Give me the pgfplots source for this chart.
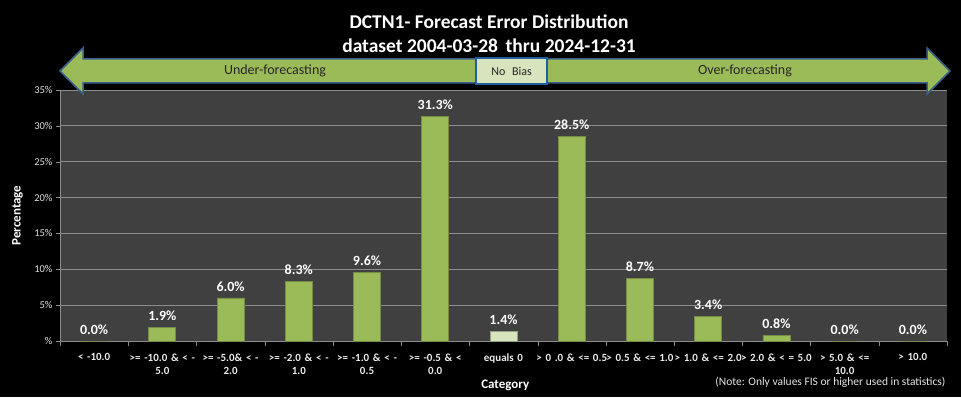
\documentclass[border=0pt]{standalone}
\usepackage{pgfplots}
\pgfplotsset{compat=1.18}
\usepackage{fontspec}
\setmainfont{Carlito}
\definecolor{bargreen}{HTML}{9BBB59}
\definecolor{barpale}{HTML}{D7E4BD}
\definecolor{plotbg}{HTML}{404040}
\definecolor{gridc}{HTML}{8C8C8C}
\definecolor{arrowedge}{HTML}{3A5F8A}
\begin{document}
\begin{tikzpicture}[x=1pt,y=1pt]
\fill[black] (0,0) rectangle (961,397);
\path[use as bounding box] (0,0) rectangle (961,397);
% titles
\node[white,font=\bfseries\fontsize{19.5}{22}\selectfont] at (489,375) {DCTN1- Forecast Error Distribution};
\node[white,font=\bfseries\fontsize{19.5}{22}\selectfont] at (489,351) {dataset 2004-03-28\, thru 2024-12-31};
% axis
\begin{axis}[
  at={(60pt,56pt)}, anchor=south west,
  scale only axis, width=887pt, height=251pt,
  xmin=-0.5, xmax=12.5, ymin=0, ymax=35,
  /pgf/number format/assume math mode=true,
  axis background/.style={fill=plotbg},
  axis line style={gridc},
  axis x line*=bottom, axis y line*=left,
  ymajorgrids, grid style={gridc, line width=0.8pt},
  ytick={0,5,...,35},
  yticklabels={\%,5\%,10\%,15\%,20\%,25\%,30\%,35\%},
  yticklabel style={font=\fontsize{10.5}{12}\selectfont, color=white!88!black},
  ytick style={gridc},
  tick align=outside,
  major tick length=4pt,
  xtick={0,...,12},
  major x tick style={draw=none},
  minor xtick={-0.5,0.5,...,12.5},
  minor x tick style={gridc},
  minor tick length=5pt,
  xticklabels={
    {\textless\ -10.0},
    {\textgreater= -10.0 \& \textless\ -\\5.0},
    {\textgreater= -5.0\& \textless\ -\\2.0},
    {\textgreater= -2.0 \& \textless\ -\\1.0},
    {\textgreater= -1.0 \& \textless\ -\\0.5},
    {\textgreater= -0.5 \& \textless\\0.0},
    {equals 0},
    {\textgreater\ 0 .0 \& \textless= 0.5},
    {\textgreater\ 0.5 \& \textless= 1.0},
    {\textgreater\ 1.0 \& \textless= 2.0},
    {\textgreater\ 2.0 \& \textless\ = 5.0},
    {\textgreater\ 5.0 \& \textless=\\10.0},
    {\textgreater\ 10.0}},
  xticklabel style={font=\bfseries\fontsize{11}{13}\selectfont, color=white!92!black, align=center, text width=76pt, anchor=north, yshift=-5pt},
  ylabel={Percentage},
  xlabel={Category},
  every axis y label/.style={at={(axis description cs:-0.048,0.5)}, rotate=90, anchor=center, font=\bfseries\fontsize{13}{15}\selectfont, text=white},
  every axis x label/.style={at={(axis description cs:0.502,-0.175)}, anchor=center, font=\bfseries\fontsize{13}{15}\selectfont, text=white},
  ybar, bar width=27pt, bar shift=0pt,
  nodes near coords={\pgfmathprintnumber[fixed,fixed zerofill,precision=1]{\pgfplotspointmeta}\%},
  nodes near coords style={font=\bfseries\fontsize{14}{16}\selectfont, white, yshift=3pt},
  clip=false,
]
\addplot[fill=bargreen, draw=bargreen!75!black, line width=0.8pt] coordinates {
  (0,0.0) (1,1.9) (2,6.0) (3,8.3) (4,9.6) (5,31.3)
  (7,28.5) (8,8.7) (9,3.4) (10,0.8) (11,0.0) (12,0.0)};
\addplot[fill=barpale, draw=barpale!70!black, line width=0.8pt] coordinates {(6,1.4)};
\end{axis}
% banner arrow
\draw[arrowedge, line width=1.5pt, fill=bargreen]
  (60,326) -- (83,349) -- (83,338) -- (927,338) -- (927,349) -- (950,326)
  -- (927,303) -- (927,314) -- (83,314) -- (83,303) -- cycle;
\draw[draw={rgb,255:red,31;green,95;blue,159}, line width=2pt, fill=barpale] (476,313) rectangle (547,339);
\node[font=\fontsize{12}{14}\selectfont, text=black!85] at (511.5,326) {No\,\, Bias};
\node[font=\fontsize{14}{16}\selectfont, text=black!85] at (275,326) {Under-forecasting};
\node[font=\fontsize{14}{16}\selectfont, text=black!85] at (745,326) {Over-forecasting};
% note
\node[anchor=east, font=\fontsize{11.5}{13}\selectfont, white!90!black] at (949,15) {(Note: Only values FIS or higher used in statistics)};
\end{tikzpicture}
\end{document}
